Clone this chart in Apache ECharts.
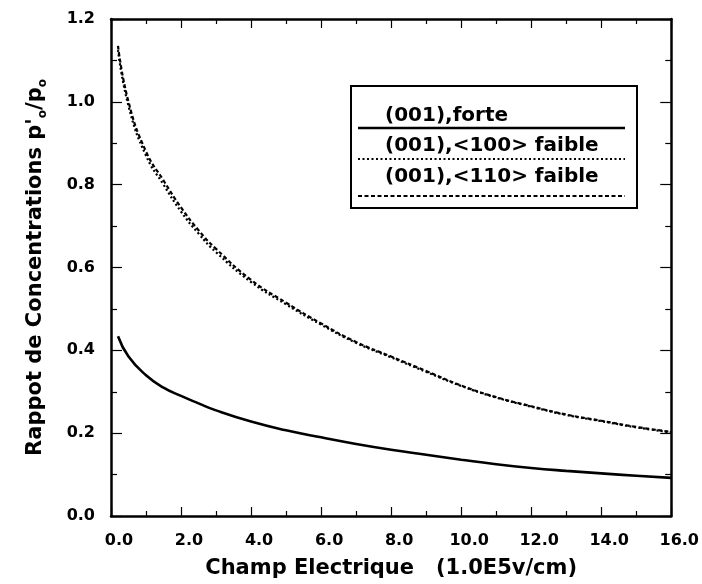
<!DOCTYPE html>
<html>
<head>
<meta charset="utf-8">
<script src="https://cdn.jsdelivr.net/npm/echarts@6/dist/echarts.min.js"></script>
<style>
  html, body { margin: 0; padding: 0; background: #fff; }
  #chart { width: 702px; height: 584px; }
</style>
</head>
<body>
<div id="chart"></div>
<script>
// Electric field (1.0E5 V/cm)
const fieldValues = [0.2, 0.5, 1.0, 1.5, 2.0, 2.5, 3.0, 4.0, 5.0, 6.0, 7.0, 8.0, 9.0, 10.0, 11.0, 12.0, 13.0, 14.0, 15.0, 16.0];

// Concentration ratio p'o/po for each orientation / field strength
const forte001 = [0.434, 0.385, 0.340, 0.310, 0.290, 0.272, 0.255, 0.228, 0.207, 0.190, 0.174, 0.160, 0.148, 0.136, 0.125, 0.116, 0.109, 0.103, 0.097, 0.092];
const faible100 = [1.125, 0.990, 0.870, 0.800, 0.735, 0.682, 0.637, 0.565, 0.511, 0.462, 0.418, 0.383, 0.348, 0.314, 0.286, 0.264, 0.244, 0.229, 0.214, 0.202];
const faible110 = [1.135, 1.000, 0.880, 0.810, 0.745, 0.690, 0.645, 0.570, 0.515, 0.465, 0.420, 0.385, 0.350, 0.315, 0.287, 0.265, 0.245, 0.230, 0.215, 0.203];

const seriesNames = ['(001),forte', '(001),<100> faible', '(001),<110> faible'];

const FONT = 'DejaVu Sans';
const pairs = (ys) => fieldValues.map((x, i) => [x, ys[i]]);

const frameAxisX = (pos, labels) => ({
  type: 'value', position: pos, min: 0, max: 16, interval: 2,
  axisLine: { show: true, onZero: false, lineStyle: { color: '#000', width: 2.5 } },
  axisTick: { show: true, inside: true, length: 9, lineStyle: { color: '#000', width: 1.2 } },
  minorTick: { show: true, splitNumber: 2, length: 5, lineStyle: { color: '#000', width: 1.2 } },
  splitLine: { show: false }, minorSplitLine: { show: false },
  axisLabel: labels ? {
    show: true, margin: 17, color: '#000', fontFamily: FONT, fontWeight: 'bold', fontSize: 16,
    padding: [0, 0, 0, 16],
    formatter: (v) => v.toFixed(1)
  } : { show: false }
});

const frameAxisY = (pos, labels) => ({
  type: 'value', position: pos, min: 0, max: 1.2, interval: 0.2,
  axisLine: { show: true, onZero: false, lineStyle: { color: '#000', width: 2.5 } },
  axisTick: { show: true, inside: true, length: 11, lineStyle: { color: '#000', width: 1.2 } },
  minorTick: { show: true, splitNumber: 2, length: 6, lineStyle: { color: '#000', width: 1.2 } },
  splitLine: { show: false }, minorSplitLine: { show: false },
  axisLabel: labels ? {
    show: true, margin: 16, color: '#000', fontFamily: FONT, fontWeight: 'bold', fontSize: 16,
    formatter: (v) => v.toFixed(1)
  } : { show: false }
});

const xBottom = frameAxisX('bottom', true);
xBottom.name = 'Champ Electrique   (1.0E5v/cm)';
xBottom.nameLocation = 'middle';
xBottom.nameGap = 42;
xBottom.nameTextStyle = { color: '#000', fontFamily: FONT, fontWeight: 'bold', fontSize: 21 };

const yLeft = frameAxisY('left', true);
yLeft.name = "{m|Rappot de Concentrations p'}{s|o}{m|/p}{s|o}";
yLeft.nameLocation = 'middle';
yLeft.nameGap = 62;
yLeft.nameRotate = 90;
yLeft.nameTextStyle = {
  color: '#000', fontFamily: FONT, fontWeight: 'bold', fontSize: 21,
  rich: {
    m: { fontFamily: FONT, fontWeight: 'bold', fontSize: 21, color: '#000', lineHeight: 26, verticalAlign: 'middle' },
    s: { fontFamily: FONT, fontWeight: 'bold', fontSize: 12, color: '#000', lineHeight: 12, verticalAlign: 'bottom', padding: [10, 0, 0, 0] }
  }
};

const lineStyles = [
  { color: '#000', width: 2.6, type: 'solid' },
  { color: '#000', width: 2.2, type: [2, 2.5] },
  { color: '#000', width: 2.2, type: [4, 2.5] }
];
const dataSets = [forte001, faible100, faible110];

// Legend box with sample lines under each label
const legendLeft = 350, legendTop = 85, legendW = 286, legendH = 122;
const rowTextY = [116, 146, 177];
const rowLineY = [128, 159, 196];
const legendGraphics = [{
  type: 'rect', left: legendLeft, top: legendTop,
  shape: { width: legendW, height: legendH },
  style: { fill: '#fff', stroke: '#000', lineWidth: 2 }, z: 10
}];
seriesNames.forEach((name, i) => {
  legendGraphics.push({
    type: 'text', x: 385, y: rowTextY[i], z: 11,
    style: { text: name, fill: '#000', font: 'bold 20px "DejaVu Sans"', textVerticalAlign: 'middle' }
  });
  legendGraphics.push({
    type: 'line', z: 11,
    shape: { x1: 358, y1: rowLineY[i], x2: 625, y2: rowLineY[i] },
    style: { stroke: '#000', lineWidth: lineStyles[i].width, lineDash: lineStyles[i].type === 'solid' ? null : lineStyles[i].type }
  });
});

const chart = echarts.init(document.getElementById('chart'), null, { renderer: 'canvas' });
chart.setOption({
  backgroundColor: '#fff',
  animation: false,
  grid: { left: 111, right: 22, top: 19, bottom: 67 },
  xAxis: [xBottom, frameAxisX('top', false)],
  yAxis: [yLeft, frameAxisY('right', false)],
  series: seriesNames.map((name, i) => ({
    name, type: 'line', xAxisIndex: 0, yAxisIndex: 0,
    data: pairs(dataSets[i]),
    showSymbol: false, smooth: 0.5,
    lineStyle: lineStyles[i]
  })),
  graphic: legendGraphics
});
</script>
</body>
</html>
